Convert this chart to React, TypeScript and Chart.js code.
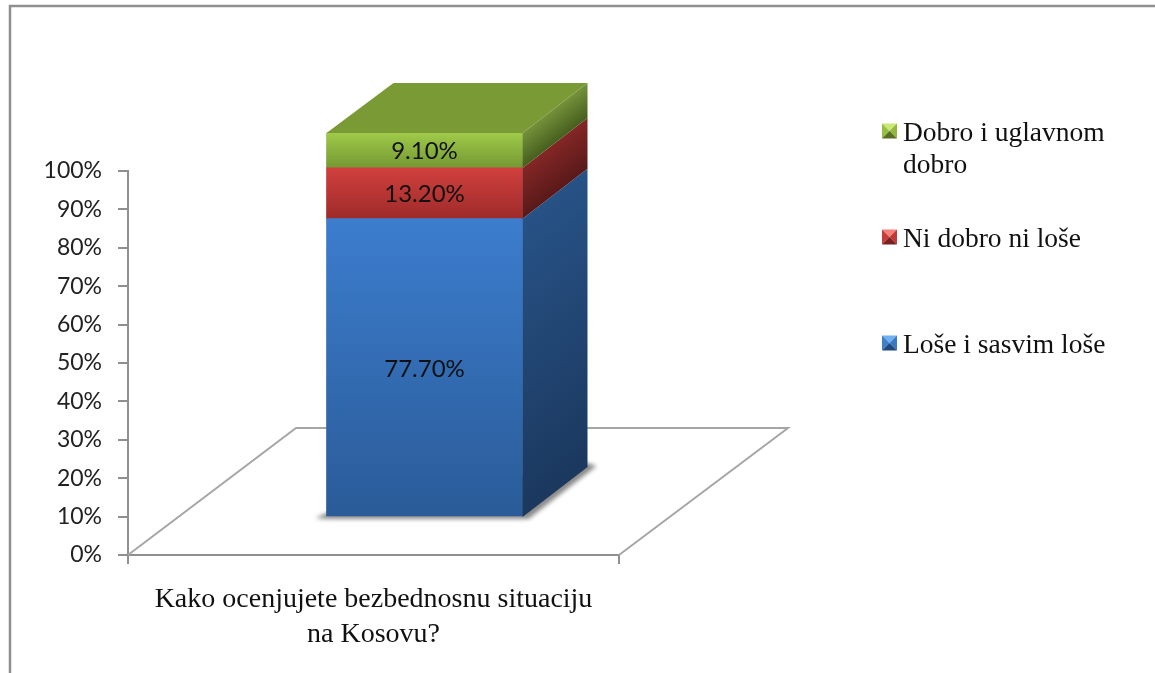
import React, { useEffect, useRef } from "react";
import { Chart, registerables } from "chart.js";

Chart.register(...registerables);

const categories = [["Kako ocenjujete bezbednosnu situaciju", "na Kosovu?"]];
const badValues = [77.7];
const neutralValues = [13.2];
const goodValues = [9.1];
const seriesNames = ["Loše i sasvim loše", "Ni dobro ni loše", "Dobro i uglavnom dobro"];
const legendLines = [["Loše i sasvim loše"], ["Ni dobro ni loše"], ["Dobro i uglavnom", "dobro"]];
const yTicks = { min: 0, max: 100, step: 10 };

const LABEL_FONT = "Lato, sans-serif";
const SERIF_FONT = "'Liberation Serif', serif";
const OFFSET = { x: 51, y: -38 };
const DEPTH = { x: 65, y: -50 };
const AXIS = "#8f8f8f";

const palette = [
  { front: ["#3C7DCE", "#2A5B98"], side: ["#275286", "#1B385E"], marker: ["#6FB0EE", "#3F7FCB", "#3A78C2", "#1F4A7C"] },
  { front: ["#D0403D", "#9E2B2A"], side: ["#842726", "#591919"], marker: ["#F5807A", "#C63D39", "#BF3A37", "#7A2120"] },
  { front: ["#9FCA49", "#749833"], side: ["#74923A", "#465F1E"], marker: ["#CBE874", "#98BE45", "#93B842", "#566F22"] },
];

const threeD = {
  id: "threeD",
  beforeDatasetsDraw(chart: any) {
    const { ctx, chartArea: a } = chart;
    ctx.save();
    // floor
    ctx.strokeStyle = "#a6a6a6";
    ctx.lineWidth = 2;
    ctx.beginPath();
    ctx.moveTo(a.left, a.bottom);
    ctx.lineTo(a.left + 168, a.bottom - 127);
    ctx.lineTo(a.right + 169, a.bottom - 127);
    ctx.lineTo(a.right, a.bottom);
    ctx.stroke();
    // cast shadow
    const bar = chart.getDatasetMeta(0).data[0];
    const l = bar.x - bar.width / 2 + OFFSET.x;
    const r = bar.x + bar.width / 2 + OFFSET.x;
    const b = chart.scales.y.getPixelForValue(0) + OFFSET.y;
    ctx.filter = "blur(2px)";
    ctx.fillStyle = "#8a8a8a";
    ctx.beginPath();
    ctx.moveTo(l - 11, b + 1);
    ctx.lineTo(l, b - 4);
    ctx.lineTo(r + DEPTH.x, b + DEPTH.y - 4);
    ctx.lineTo(r + DEPTH.x + 9, b + DEPTH.y - 1);
    ctx.lineTo(r + 6, b + 2);
    ctx.lineTo(l, b + 2);
    ctx.closePath();
    ctx.fill();
    ctx.restore();
    ctx.save();
    ctx.translate(OFFSET.x, OFFSET.y);
  },
  afterDatasetsDraw(chart: any) {
    const { ctx, scales, data } = chart;
    ctx.restore();
    ctx.save();
    const y = scales.y;
    let acc = 0;
    const metas = data.datasets.map((_: any, i: number) => chart.getDatasetMeta(i).data[0]);
    const r = metas[0].x + metas[0].width / 2 + OFFSET.x;
    const l = metas[0].x - metas[0].width / 2 + OFFSET.x;
    data.datasets.forEach((ds: any, i: number) => {
      const v = ds.data[0];
      const yb = y.getPixelForValue(acc) + OFFSET.y;
      const yt = y.getPixelForValue(acc + v) + OFFSET.y;
      acc += v;
      const h = yb - yt;
      const sx = r + DEPTH.x / 2;
      const sy = yt + DEPTH.y / 2;
      const k = (h * 65) / (82 * 82);
      const g = ctx.createLinearGradient(sx, sy, sx + 50 * k, sy + 65 * k);
      g.addColorStop(0, palette[i].side[0]);
      g.addColorStop(1, palette[i].side[1]);
      ctx.fillStyle = g;
      ctx.beginPath();
      ctx.moveTo(r, yb);
      ctx.lineTo(r + DEPTH.x, yb + DEPTH.y);
      ctx.lineTo(r + DEPTH.x, yt + DEPTH.y);
      ctx.lineTo(r, yt);
      ctx.closePath();
      ctx.fill();
      if (i === data.datasets.length - 1) {
        ctx.fillStyle = "#7A9A35";
        ctx.beginPath();
        ctx.moveTo(l, yt);
        ctx.lineTo(l + DEPTH.x + 2, yt + DEPTH.y);
        ctx.lineTo(r + DEPTH.x, yt + DEPTH.y);
        ctx.lineTo(r, yt);
        ctx.closePath();
        ctx.fill();
      }
    });
    // value labels
    acc = 0;
    ctx.font = "24px " + LABEL_FONT;
    ctx.fillStyle = "#111";
    ctx.textAlign = "center";
    ctx.textBaseline = "middle";
    data.datasets.forEach((ds: any) => {
      const v = ds.data[0];
      const cy = y.getPixelForValue(acc + v / 2) + OFFSET.y;
      acc += v;
      ctx.fillText(v.toFixed(2) + "%", (l + r) / 2, cy + 1);
    });
    // legend
    const mx = 882;
    const ms = 15;
    const rows = [345, 239, 133];
    ctx.textAlign = "left";
    ctx.textBaseline = "middle";
    ctx.font = "27.5px " + SERIF_FONT;
    rows.forEach((cy, i) => {
      const m = palette[i].marker;
      const top = cy - ms / 2 - 2;
      const tri = (pts: number[][], c: string) => {
        ctx.fillStyle = c;
        ctx.beginPath();
        pts.forEach((p, j) => (j ? ctx.lineTo(p[0], p[1]) : ctx.moveTo(p[0], p[1])));
        ctx.closePath();
        ctx.fill();
      };
      const c = [mx + ms / 2, top + ms / 2];
      tri([[mx, top], [mx + ms, top], c], m[0]);
      tri([[mx, top], [mx, top + ms], c], m[1]);
      tri([[mx + ms, top], [mx + ms, top + ms], c], m[2]);
      tri([[mx, top + ms], [mx + ms, top + ms], c], m[3]);
      ctx.fillStyle = "#111";
      legendLines[i].forEach((t, j) => ctx.fillText(t, 903, cy + 1 + j * 32));
    });
    // frame
    ctx.strokeStyle = "#8f8f8f";
    ctx.lineWidth = 2.5;
    ctx.beginPath();
    ctx.moveTo(10, 673);
    ctx.lineTo(10, 6);
    ctx.lineTo(1155, 6);
    ctx.stroke();
    ctx.restore();
  },
};

function frontGradient(i: number, lower: number[], upper: number[]) {
  return (context: any) => {
    const { chart } = context;
    const y = chart.scales.y;
    const y0 = y ? y.getPixelForValue(upper[0]) : NaN;
    const y1 = y ? y.getPixelForValue(lower[0]) : NaN;
    if (!Number.isFinite(y0) || !Number.isFinite(y1)) return palette[i].front[0];
    const g = chart.ctx.createLinearGradient(0, y0, 0, y1);
    g.addColorStop(0, palette[i].front[0]);
    g.addColorStop(1, palette[i].front[1]);
    return g;
  };
}

export default function App() {
  const ref = useRef<HTMLCanvasElement>(null);
  useEffect(() => {
    if (!ref.current) return;
    const neutralTop = [badValues[0] + neutralValues[0]];
    const chart = new Chart(ref.current, {
      type: "bar",
      data: {
        labels: categories as any,
        datasets: [
          { label: seriesNames[0], data: badValues, backgroundColor: frontGradient(0, [0], badValues) as any, barThickness: 196, clip: false as any },
          { label: seriesNames[1], data: neutralValues, backgroundColor: frontGradient(1, badValues, neutralTop) as any, barThickness: 196, clip: false as any },
          { label: seriesNames[2], data: goodValues, backgroundColor: frontGradient(2, neutralTop, [100]) as any, barThickness: 196, clip: false as any },
        ],
      },
      plugins: [threeD],
      options: {
        animation: false,
        responsive: false,
        layout: { padding: { top: 171, right: 536, left: 0, bottom: 0 } },
        plugins: { legend: { display: false }, title: { display: false }, tooltip: { enabled: false } },
        scales: {
          x: {
            stacked: true,
            afterFit: (s: any) => { s.height = 118; },
            border: { color: AXIS, width: 2 },
            grid: { drawOnChartArea: false, drawTicks: true, tickLength: 9, color: AXIS, lineWidth: 2 },
            ticks: { color: "#111", font: { family: SERIF_FONT, size: 28, lineHeight: 1.22 }, padding: 19, maxRotation: 0, autoSkip: false },
          },
          y: {
            stacked: true,
            min: yTicks.min,
            max: yTicks.max,
            afterFit: (s: any) => { s.width = 128; },
            border: { color: AXIS, width: 2 },
            grid: { drawOnChartArea: false, drawTicks: true, tickLength: 10, color: AXIS, lineWidth: 2 },
            ticks: { stepSize: yTicks.step, color: "#222", font: { family: LABEL_FONT, size: 23 }, padding: 16, callback: (v: any) => v + "%" },
          },
        },
      },
    });
    return () => chart.destroy();
  }, []);
  return (
    <div style={{ position: "absolute", left: 0, top: 0, width: 1155, height: 673, background: "#fff" }}>
      <canvas ref={ref} width={1155} height={673} style={{ display: "block" }} />
    </div>
  );
}
